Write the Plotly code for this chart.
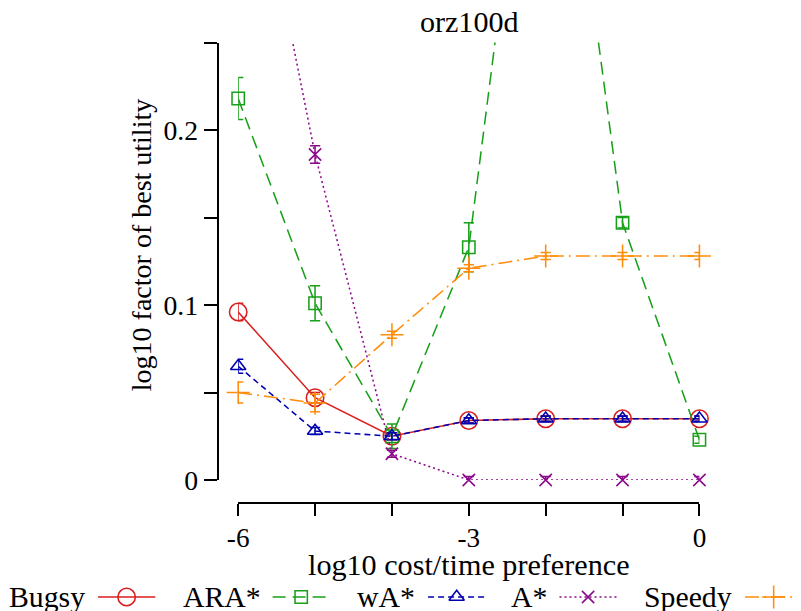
import plotly.graph_objects as go

# log10 cost/time preference
prefs = [-6, -5, -4, -3, -2, -1, 0]

# log10 factor of best utility (mean and error) per algorithm
bugsy = [0.096, 0.047, 0.025, 0.034, 0.035, 0.035, 0.035]
bugsy_err = [0.005, 0.003, 0.002, 0.0015, 0.0015, 0.0015, 0.0015]
ara = [0.218, 0.101, 0.025, 0.133, 0.476, 0.147, 0.023]
ara_err = [0.012, 0.010, 0.007, 0.014, 0.010, 0.003, 0.002]
wastar = [0.065, 0.028, 0.025, 0.034, 0.035, 0.035, 0.035]
wastar_err = [0.004, 0.002, 0.002, 0.0015, 0.0015, 0.0015, 0.0015]
astar = [0.406, 0.186, 0.015, 0.0, 0.0, 0.0, 0.0]
astar_err = [0.010, 0.005, 0.002, 0.002, 0.002, 0.002, 0.002]
speedy = [0.050, 0.044, 0.083, 0.121, 0.128, 0.128, 0.128]
speedy_err = [0.006, 0.005, 0.002, 0.002, 0.002, 0.002, 0.002]

x_tickvals = [-6, -5, -4, -3, -2, -1, 0]
x_ticktext = ["-6", "", "", "-3", "", "", "0"]
y_tickvals = [0, 0.05, 0.1, 0.15, 0.2, 0.25]
y_ticktext = ["0", "", "0.1", "", "0.2", ""]

FONT = "Liberation Serif"

# Output frame (the picture) and the page the figure is laid out on.
OUT_W, OUT_H = 801, 611
W, H = 801, 627
S = OUT_H / H                      # page -> picture scale
X0 = (OUT_W - W * S) / 2           # horizontal centring of the scaled page


def px(xo):
    """picture x pixel -> paper fraction"""
    return (xo - X0) / S / W


def py(yo):
    """picture y pixel -> paper fraction"""
    return 1 - yo / S / H


def sz(v):
    """picture size -> page size"""
    return v / S


series = [
    # name, values, errors, color, dash, symbol, size
    ("Bugsy", bugsy, bugsy_err, "#d81e1e", "solid", "circle-open", 17),
    ("ARA*", ara, ara_err, "#19a019", "13px,7px", "square-open", 12),
    ("wA*", wastar, wastar_err, "#0000b0", "6px,4px", "triangle-up-open", 13),
    ("A*", astar, astar_err, "#8a0a8a", "2px,3px", "x-thin-open", 12),
    ("Speedy", speedy, speedy_err, "#ff8c0a", "14px,5px,2px,5px", "cross-thin-open", 16),
]

LW = sz(1.5)

fig = go.Figure()

for name, vals, errs, color, dash, symbol, size in series:
    fig.add_trace(go.Scatter(
        x=prefs, y=vals, mode="lines+markers", name=name,
        line=dict(color=color, width=LW, dash=dash),
        marker=dict(symbol=symbol, size=sz(size), color=color,
                    line=dict(color=color, width=LW)),
        error_y=dict(type="data", array=errs, visible=True,
                     color=color, thickness=LW, width=sz(5)),
        cliponaxis=False, showlegend=False,
        xaxis="x", yaxis="y",
    ))

# Legend row: label text followed by a line/marker sample
legend_items = [
    # label right edge, sample start (picture pixels)
    (86, 97),
    (261, 271),
    (415, 426),
    (547, 557),
    (731, 742),
]
LEG_Y = 596
SAMPLE_LEN = 57
annotations = []
for (name, vals, errs, color, dash, symbol, size), (tx, sx) in zip(series, legend_items):
    annotations.append(dict(
        x=tx, y=LEG_Y, xref="x2", yref="y2", text=name, showarrow=False,
        xanchor="right", yanchor="middle",
        font=dict(family=FONT, size=sz(29), color="black"),
    ))
    fig.add_trace(go.Scatter(
        x=[sx, sx + SAMPLE_LEN], y=[LEG_Y + 1, LEG_Y + 1], mode="lines",
        line=dict(color=color, width=LW, dash=dash),
        showlegend=False, hoverinfo="skip", xaxis="x2", yaxis="y2",
        cliponaxis=False,
    ))
    fig.add_trace(go.Scatter(
        x=[sx + SAMPLE_LEN / 2], y=[LEG_Y + 1], mode="markers",
        marker=dict(symbol=symbol, size=sz(size), color=color,
                    line=dict(color=color, width=LW)),
        showlegend=False, hoverinfo="skip", xaxis="x2", yaxis="y2",
        cliponaxis=False,
    ))

x_dom = [px(236.7), px(696.5)]
y_dom = [py(480), py(42.5)]
x_mid = (x_dom[0] + x_dom[1]) / 2

annotations += [
    dict(x=x_mid, y=py(22), xref="paper", yref="paper",
         text="orz100d", showarrow=False, xanchor="center", yanchor="middle",
         font=dict(family=FONT, size=sz(29.3), color="black")),
    dict(x=x_mid, y=py(565), xref="paper", yref="paper",
         text="log10 cost/time preference", showarrow=False,
         xanchor="center", yanchor="middle",
         font=dict(family=FONT, size=sz(29.4), color="black")),
    dict(x=px(140), y=py(245), xref="paper", yref="paper",
         text="log10 factor of best utility", showarrow=False, textangle=-90,
         xanchor="center", yanchor="middle",
         font=dict(family=FONT, size=sz(27.3), color="black")),
]

fig.update_layout(
    width=W, height=H,
    margin=dict(l=0, r=0, t=0, b=0),
    paper_bgcolor="white", plot_bgcolor="rgba(0,0,0,0)",
    showlegend=False,
    xaxis=dict(
        domain=x_dom, range=[-6, 0], anchor="free", position=py(503),
        showline=True, linecolor="black", linewidth=sz(2),
        ticks="outside", ticklen=sz(12), tickwidth=sz(2), tickcolor="black",
        tickvals=x_tickvals, ticktext=x_ticktext,
        tickfont=dict(family=FONT, size=sz(26.5), color="black"),
        ticklabelstandoff=-2,
        showgrid=False, zeroline=False,
    ),
    yaxis=dict(
        domain=y_dom, range=[0, 0.25], anchor="free", position=px(216.5),
        showline=True, linecolor="black", linewidth=sz(2),
        ticks="outside", ticklen=sz(13), tickwidth=sz(2), tickcolor="black",
        tickvals=y_tickvals, ticktext=y_ticktext,
        tickfont=dict(family=FONT, size=sz(27), color="black"),
        showgrid=False, zeroline=False,
    ),
    # full-page helper axes for the legend row, in picture pixels
    xaxis2=dict(domain=[0, 1], range=[X0, X0 + W * S], visible=False, fixedrange=True),
    yaxis2=dict(domain=[0, 1], range=[OUT_H, 0], visible=False, fixedrange=True,
                anchor="x2"),
    annotations=annotations,
)

fig.write_html("out.html")
